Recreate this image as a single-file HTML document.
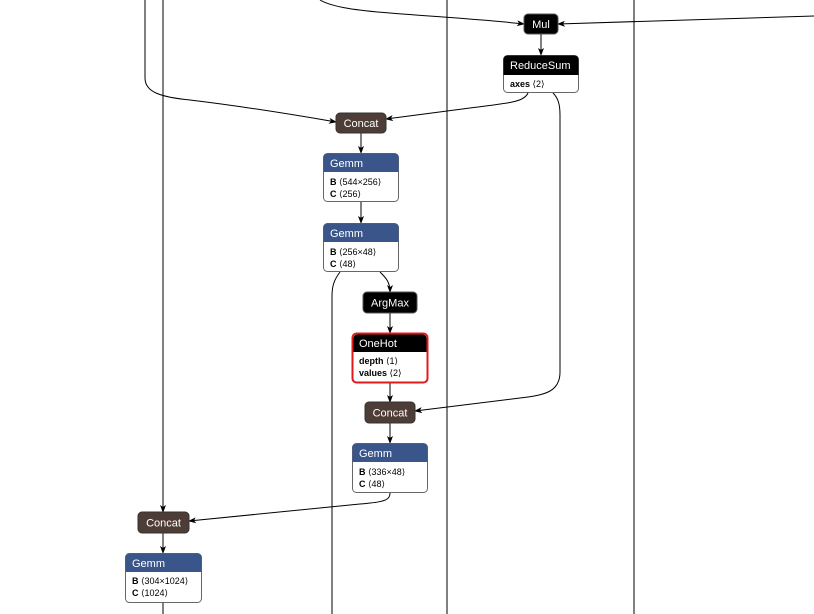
<!DOCTYPE html>
<html><head><meta charset="utf-8"><style>
html,body{margin:0;padding:0;background:#fff;}
svg{display:block;font-family:"Liberation Sans","DejaVu Sans",sans-serif;}
.h{fill:#fff;font-size:11px;}
.a{fill:#000;font-size:9px;}
.e{fill:none;stroke:#000;stroke-width:1;}
</style></head><body>
<svg width="814" height="614" viewBox="0 0 814 614" xmlns="http://www.w3.org/2000/svg">
<defs><marker id="ar" markerWidth="8" markerHeight="6" refX="7" refY="3" orient="auto" markerUnits="userSpaceOnUse"><path d="M0,0 L8,3 L0,6 L2,3 Z" fill="#000"/></marker></defs>
<path class="e" d="M447,0 V614 M634,0 V614"/>
<path class="e" d="M163,0 V512" marker-end="url(#ar)"/>
<path class="e" d="M145,0 V78 C145,92 160,97 190,100 C240,106 290,114 336,122" marker-end="url(#ar)"/>
<path class="e" d="M320,0 C330,6 350,10 390,13 C440,17 490,20 524,24" marker-end="url(#ar)"/>
<path class="e" d="M814,16 L558,24" marker-end="url(#ar)"/>
<path class="e" d="M541,34 V55" marker-end="url(#ar)"/>
<path class="e" d="M528,93 C524,102 510,103 470,108 L386,119" marker-end="url(#ar)"/>
<path class="e" d="M553,93 C558,98 560,104 560,115 V372 C560,392 545,395 520,398 L415,411" marker-end="url(#ar)"/>
<path class="e" d="M361,133 V153" marker-end="url(#ar)"/>
<path class="e" d="M361,202 V223" marker-end="url(#ar)"/>
<path class="e" d="M340,272 C334,280 332,286 332,296 V614"/>
<path class="e" d="M380,272 C386,278 390,282 390,292" marker-end="url(#ar)"/>
<path class="e" d="M390,313 V333" marker-end="url(#ar)"/>
<path class="e" d="M390,383 V402" marker-end="url(#ar)"/>
<path class="e" d="M390,423 V443" marker-end="url(#ar)"/>
<path class="e" d="M390,493 C390,500 385,502 360,504 L189,521" marker-end="url(#ar)"/>
<path class="e" d="M163,533 V553" marker-end="url(#ar)"/>
<path class="e" d="M163,603 V614"/>
<rect x="524" y="14" width="34" height="20" rx="4" fill="#000" stroke="#555"/>
<text class="h" x="541" y="28" text-anchor="middle">Mul</text>
<rect x="503.5" y="55.5" width="75" height="37" rx="4" fill="#fff" stroke="#666"/>
<path d="M503.5,75 V59.5 a4,4 0 0 1 4,-4 H574.5 a4,4 0 0 1 4,4 V75 Z" fill="#000"/>
<text class="h" x="510" y="69">ReduceSum</text>
<text class="a" x="510" y="87"><tspan font-weight="bold">axes</tspan> ⟨2⟩</text>
<rect x="336" y="113" width="50" height="20" rx="4" fill="#4e3d36" stroke="#333"/>
<text class="h" x="361" y="127" text-anchor="middle">Concat</text>
<rect x="323.5" y="153.5" width="75" height="48" rx="4" fill="#fff" stroke="#666"/>
<path d="M323.5,172 V157.5 a4,4 0 0 1 4,-4 H394.5 a4,4 0 0 1 4,4 V172 Z" fill="#39558a"/>
<text class="h" x="330" y="167">Gemm</text>
<text class="a" x="330" y="185"><tspan font-weight="bold">B</tspan> ⟨544×256⟩</text>
<text class="a" x="330" y="197"><tspan font-weight="bold">C</tspan> ⟨256⟩</text>
<rect x="323.5" y="223.5" width="75" height="48" rx="4" fill="#fff" stroke="#666"/>
<path d="M323.5,242 V227.5 a4,4 0 0 1 4,-4 H394.5 a4,4 0 0 1 4,4 V242 Z" fill="#39558a"/>
<text class="h" x="330" y="237">Gemm</text>
<text class="a" x="330" y="255"><tspan font-weight="bold">B</tspan> ⟨256×48⟩</text>
<text class="a" x="330" y="267"><tspan font-weight="bold">C</tspan> ⟨48⟩</text>
<rect x="363" y="292" width="54" height="21" rx="4" fill="#000" stroke="#555"/>
<text class="h" x="390" y="306.5" text-anchor="middle">ArgMax</text>
<rect x="352.5" y="333.5" width="75" height="49" rx="4" fill="#fff" stroke="#e0191c" stroke-width="2"/>
<path d="M353.5,352 V338 a3.5,3.5 0 0 1 3.5,-3.5 H423 a3.5,3.5 0 0 1 3.5,3.5 V352 Z" fill="#000"/>
<text class="h" x="359" y="347">OneHot</text>
<text class="a" x="359" y="364"><tspan font-weight="bold">depth</tspan> ⟨1⟩</text>
<text class="a" x="359" y="376"><tspan font-weight="bold">values</tspan> ⟨2⟩</text>
<rect x="365" y="402" width="50" height="21" rx="4" fill="#4e3d36" stroke="#333"/>
<text class="h" x="390" y="416.5" text-anchor="middle">Concat</text>
<rect x="352.5" y="443.5" width="75" height="49" rx="4" fill="#fff" stroke="#666"/>
<path d="M352.5,462 V447.5 a4,4 0 0 1 4,-4 H423.5 a4,4 0 0 1 4,4 V462 Z" fill="#39558a"/>
<text class="h" x="359" y="457">Gemm</text>
<text class="a" x="359" y="475"><tspan font-weight="bold">B</tspan> ⟨336×48⟩</text>
<text class="a" x="359" y="487"><tspan font-weight="bold">C</tspan> ⟨48⟩</text>
<rect x="138" y="512" width="51" height="21" rx="4" fill="#4e3d36" stroke="#333"/>
<text class="h" x="163.5" y="526.5" text-anchor="middle">Concat</text>
<rect x="125.5" y="553.5" width="76" height="49" rx="4" fill="#fff" stroke="#666"/>
<path d="M125.5,572 V557.5 a4,4 0 0 1 4,-4 H197.5 a4,4 0 0 1 4,4 V572 Z" fill="#39558a"/>
<text class="h" x="132" y="567">Gemm</text>
<text class="a" x="132" y="584"><tspan font-weight="bold">B</tspan> ⟨304×1024⟩</text>
<text class="a" x="132" y="596"><tspan font-weight="bold">C</tspan> ⟨1024⟩</text>
</svg>
</body></html>
